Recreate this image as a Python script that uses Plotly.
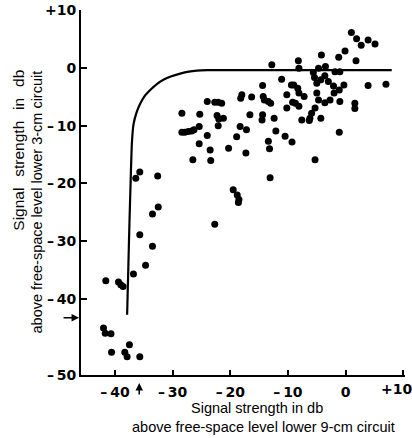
import plotly.graph_objects as go

# ---- data (dB) ----
points_x = [
    -42.0, -41.7, -40.7, -40.6, -38.3, -37.9, -37.5, -35.7,
    -41.6, -39.4, -39.0, -38.6, -36.8, -34.7, -33.5,
    -35.7, -36.4, -32.6, -32.5, -33.5, -35.7,
    -28.4, -28.4, -27.9, -27.3, -26.7, -26.3, -25.4, -25.3, -26.5, -25.4,
    -24.0, -24.0, -23.5, -23.4, -22.7, -22.1, -21.5, -22.3, -22.0, -22.1,
    -21.2, -22.7, -20.3, -19.5, -18.8, -18.5, -18.6, -18.9, -18.3, -18.2,
    -18.0, -17.3, -17.2, -16.6, -16.3,
    -14.4, -14.3, -14.1, -14.4, -14.5, -13.4, -13.0, -13.4, -13.2, -13.1,
    -12.8, -12.4, -12.1, -11.1, -10.5, -10.2, -10.2, -9.4, -9.0, -9.3,
    -9.2, -8.7, -8.2, -8.1, -8.3, -8.1, -8.1, -7.6, -7.2, -6.2, -6.3,
    -5.9, -5.3, -5.3, -4.3,
    -5.0, -5.0, -4.7, -3.6, -2.7, -2.0, -2.1, -3.0, -4.3, -3.6,
    -5.6, -4.7, -3.5, -1.85, -1.0, -5.4,
    -1.1, -1.0, -1.1, -0.3, 1.6, 1.6, 3.9, 7.0,
    1.0, 1.9, 2.7, 3.9, 5.1, -0.1, -1.2, 1.8, -4.2,
]
points_y = [
    -45.1, -46.0, -46.1, -49.3, -49.3, -50.1, -48.0, -50.1,
    -36.9, -37.1, -37.6, -37.9, -35.7, -34.2, -30.9,
    -18.0, -19.1, -18.7, -24.1, -25.3, -28.9,
    -7.8, -11.1, -11.1, -11.0, -10.9, -10.7, -10.1, -8.0, -15.9, -13.1,
    -5.8, -11.7, -14.2, -16.0, -5.9, -5.9, -6.1, -8.2, -8.8, -10.0,
    -8.7, -27.1, -13.9, -21.1, -22.0, -22.8, -23.3, -11.9, -10.1, -5.2,
    -4.6, -14.7, -10.7, -8.1, -5.0,
    -3.0, -4.9, -5.5, -8.1, -9.0, -5.8, -6.1, -12.7, -14.0, -19.0,
    0.6, -8.7, -10.9, -1.9, -11.8, -6.9, -4.6, -2.9, -2.9, -12.8,
    -5.9, -6.1, 1.3, 0.0, -3.5, -4.3, -6.6, -9.0, -4.9, -8.7, -9.1,
    -7.8, -6.9, -15.9, -8.7,
    -2.6, -4.3, -5.5, -6.0, -5.5, -4.3, -3.1, -2.3, -2.0, -1.3,
    -0.75, 0.0, 0.3, -0.6, -0.6, -1.6,
    -3.8, -5.8, -11.1, -2.9, -6.1, -7.0, -3.0, -2.8,
    6.2, 5.1, 4.0, 4.9, 4.2, 3.0, 1.9, 1.3, 2.3,
]

curve_x = [-37.9, -37.7, -37.5, -37.3, -37.1, -36.8, -36.3, -35.7, -34.9, -33.9,
           -32.8, -31.6, -30.2, -28.7, -27.2, -25.8, -24.0, 8.0]
curve_y = [-42.8, -35.0, -27.0, -20.0, -13.5, -9.8, -7.8, -6.3, -4.9, -3.8,
           -2.8, -2.0, -1.4, -0.95, -0.6, -0.42, -0.35, -0.35]

x_tick_vals = [-40, -30, -20, -10, 0, 10]
x_tick_text = ["\u2013\u200940", "\u2013\u200930", "\u2013\u200920", "\u2013\u200910", "0", ""]
x_last_label = "+10"
y_tick_vals = [10, 0, -10, -20, -30, -40, -53.2]
y_tick_text = ["+10", "0", "\u2013\u200910", "\u2013\u200920", "\u2013\u200930", "\u2013\u200940",
               "\u2013\u200950"]

x_range = [-45.9, 10.3]
y_range = [-53.25, 10.1]

marker_y_level = -43.3   # arrow on the y axis
marker_x_level = -35.8   # arrow on the x axis

font_family = "Liberation Sans, Arial, sans-serif"
tick_family = "DejaVu Sans, sans-serif"

fig = go.Figure()
fig.add_trace(go.Scatter(
    x=curve_x, y=curve_y, mode="lines",
    line=dict(color="black", width=2.2, shape="spline", smoothing=0.4),
    hoverinfo="skip", showlegend=False,
))
fig.add_trace(go.Scatter(
    x=points_x, y=points_y, mode="markers",
    marker=dict(color="black", size=7, line=dict(width=0)),
    showlegend=False, cliponaxis=False,
))

fig.update_layout(
    width=412, height=438,
    margin=dict(l=81, r=7, t=10, b=63, autoexpand=False),
    paper_bgcolor="white", plot_bgcolor="white",
    font=dict(family=font_family, color="black"),
)
tick_font = dict(family=tick_family, size=14, color="black", weight="bold")
fig.update_xaxes(
    range=x_range, tickvals=x_tick_vals, ticktext=x_tick_text,
    showline=True, linecolor="black", linewidth=2,
    ticks="inside", ticklen=5, tickwidth=2, tickcolor="black",
    showgrid=False, zeroline=False, automargin=False,
    tickfont=tick_font, ticklabelstandoff=3,
)
fig.update_yaxes(
    range=y_range, tickvals=y_tick_vals, ticktext=y_tick_text,
    showline=True, linecolor="black", linewidth=2,
    ticks="inside", ticklen=6, tickwidth=2, tickcolor="black",
    showgrid=False, zeroline=False, automargin=False,
    ticklabeloverflow="allow", tickfont=tick_font,
)

title_font = dict(family=font_family, size=14.5, color="black")
ytitle1_font = dict(family=font_family, size=15.5, color="black")
gap = "\u2002\u2009"
annotations = [
    dict(text="Signal strength in db", xref="paper", yref="paper",
         x=0.543, y=-0.0904, xanchor="center", yanchor="middle",
         showarrow=False, font=title_font),
    dict(text="above free-space level lower 9-cm circuit", xref="paper", yref="paper",
         x=0.562, y=-0.142, xanchor="center", yanchor="middle",
         showarrow=False, font=title_font),
    dict(text=gap.join(["Signal", "strength", "in", "db"]), xref="paper", yref="paper",
         x=-0.194, y=0.841, xanchor="center", yanchor="top", textangle=-90,
         showarrow=False, font=ytitle1_font),
    dict(text="above free-space level lower 3-cm circuit", xref="paper", yref="paper",
         x=-0.136, y=0.841, xanchor="center", yanchor="top", textangle=-90,
         showarrow=False, font=title_font),
    dict(text=x_last_label, xref="x", yref="paper", x=x_tick_vals[-1], y=0,
         xanchor="center", yanchor="top", xshift=-7, yshift=-4,
         showarrow=False, font=tick_font),
    dict(text="", xref="paper", yref="y", x=-0.006, y=marker_y_level,
         showarrow=True, ax=-17, ay=0, arrowhead=2, arrowsize=1, arrowwidth=1.5,
         arrowcolor="black"),
    dict(text="", xref="x", yref="paper", x=marker_x_level, y=-0.022,
         showarrow=True, ax=0, ay=13, arrowhead=2, arrowsize=1, arrowwidth=1.5,
         arrowcolor="black"),
]
fig.update_layout(annotations=annotations)

fig.write_html(
    "out.html",
    config={"displayModeBar": False},
    post_script="document.body.style.margin='0';document.body.style.overflow='hidden';",
)
